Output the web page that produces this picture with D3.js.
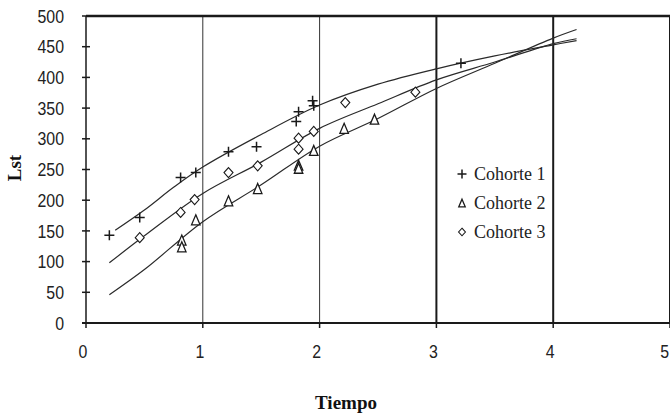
<!DOCTYPE html>
<html>
<head>
<meta charset="utf-8">
<style>
  body { margin: 0; background: #fff; }
  svg { display: block; }
  .tick-lbl { font-family: "Liberation Sans", Arial, sans-serif; font-size: 18.5px; fill: #222; }
  .ttl { font-family: "Liberation Serif", "Times New Roman", serif; font-weight: bold; font-size: 19px; fill: #111; }
  .leg { font-family: "Liberation Serif", "Times New Roman", serif; font-size: 18px; fill: #222; }
</style>
</head>
<body>
<svg width="670" height="416"></svg>
<script src="https://cdnjs.cloudflare.com/ajax/libs/d3/7.8.5/d3.min.js"></script>
<script>
var c1T = [0.2, 0.46, 0.81, 0.94, 1.22, 1.46, 1.8, 1.82, 1.94, 1.95, 3.21];
var c1L = [143, 172, 237, 245, 279, 287, 328, 344, 362, 354, 423];
var c2T = [0.82, 0.82, 0.94, 1.22, 1.47, 1.82, 1.82, 1.95, 2.21, 2.47];
var c2L = [135, 124, 168, 199, 219, 257, 252, 281, 317, 332];
var c3T = [0.46, 0.81, 0.93, 1.22, 1.47, 1.82, 1.82, 1.95, 2.22, 2.82];
var c3L = [139, 180, 201, 245, 256, 301, 283, 312, 359, 376];

// fitted curves
var f1T = [0.25, 0.5, 0.75, 1, 1.5, 2, 2.5, 3, 3.5, 4, 4.2];
var f1L = [151, 184, 221, 254, 307, 355, 389, 414, 435, 453, 460];
var f2T = [0.2, 0.5, 1, 1.5, 2, 2.5, 3, 3.5, 4, 4.2];
var f2L = [46, 87, 165, 225, 288, 333, 382, 423, 464, 478];
var f3T = [0.2, 0.5, 1, 1.5, 2, 2.5, 3, 3.5, 4, 4.2];
var f3L = [98, 142, 211, 262, 317, 357, 396, 425, 455, 463];

var xTicks = [0, 1, 2, 3, 4, 5];
var yTicks = [0, 50, 100, 150, 200, 250, 300, 350, 400, 450, 500];
var legendNames = ["Cohorte 1", "Cohorte 2", "Cohorte 3"];

var svg = d3.select("svg");
var x = d3.scaleLinear().domain([0, 5]).range([86, 670]);
var y = d3.scaleLinear().domain([0, 500]).range([323, 16]);
var ink = "#1a1a1a";

// vertical grid lines
xTicks.slice(1).forEach(function(t) {
  svg.append("line")
    .attr("x1", x(t)).attr("x2", x(t))
    .attr("y1", y(500)).attr("y2", y(0))
    .attr("stroke", t >= 3 ? ink : "#333")
    .attr("stroke-width", t >= 3 ? 2 : 1);
});

// top border
svg.append("line").attr("x1", x(0)).attr("x2", x(5)).attr("y1", y(500)).attr("y2", y(500))
  .attr("stroke", ink).attr("stroke-width", 2.5);

// y axis
svg.append("line").attr("x1", x(0)).attr("x2", x(0)).attr("y1", y(500)).attr("y2", y(0))
  .attr("stroke", ink).attr("stroke-width", 1.5);
yTicks.forEach(function(t) {
  svg.append("line").attr("x1", x(0) - 4).attr("x2", x(0) + 4).attr("y1", y(t)).attr("y2", y(t))
    .attr("stroke", ink).attr("stroke-width", 1.5);
  svg.append("text").attr("class", "tick-lbl")
    .attr("transform", "translate(64," + y(t) + ") scale(0.86,1)")
    .attr("dy", "0.36em")
    .attr("text-anchor", "end").text(t);
});

// x axis
svg.append("line").attr("x1", x(0) - 4).attr("x2", x(5)).attr("y1", y(0)).attr("y2", y(0))
  .attr("stroke", ink).attr("stroke-width", 2);
xTicks.forEach(function(t) {
  svg.append("line").attr("x1", x(t)).attr("x2", x(t)).attr("y1", y(0)).attr("y2", y(0) + 5)
    .attr("stroke", ink).attr("stroke-width", 1.5);
  var last = t === xTicks[xTicks.length - 1];
  svg.append("text").attr("class", "tick-lbl")
    .attr("transform", "translate(" + (last ? 669 : x(t) - 3) + ",351) scale(0.86,1)")
    .attr("dy", "0.36em")
    .attr("text-anchor", last ? "end" : "middle").text(t);
});

// axis titles
svg.append("text").attr("class", "ttl").attr("x", 346).attr("y", 409)
  .attr("text-anchor", "middle").text("Tiempo");
svg.append("text").attr("class", "ttl")
  .attr("transform", "translate(21,168) rotate(-90)")
  .attr("text-anchor", "middle").text("Lst");

// fitted curves
var line = d3.line()
  .x(function(d) { return x(d[0]); })
  .y(function(d) { return y(d[1]); })
  .curve(d3.curveCatmullRom);
[[f1T, f1L], [f2T, f2L], [f3T, f3L]].forEach(function(f) {
  svg.append("path")
    .datum(d3.zip(f[0], f[1]))
    .attr("d", line)
    .attr("fill", "none")
    .attr("stroke", "#2a2a2a")
    .attr("stroke-width", 1.2);
});

// markers
function plus(g, s) {
  g.append("path").attr("d", "M" + (-s) + ",0H" + s + "M0," + (-s) + "V" + s)
    .attr("stroke", ink).attr("stroke-width", 1.5).attr("fill", "none");
}
function tri(g, s) {
  g.append("path").attr("d", "M0," + (-s) + "L" + (s * 0.85) + "," + s + "H" + (-s * 0.85) + "Z")
    .attr("stroke", ink).attr("stroke-width", 1.3).attr("fill", "#fff");
}
function dia(g, s) {
  g.append("path").attr("d", "M0," + (-s) + "L" + (s * 0.9) + ",0L0," + s + "L" + (-s * 0.9) + ",0Z")
    .attr("stroke", ink).attr("stroke-width", 1.1).attr("fill", "#fff");
}
var shapes = [plus, tri, dia];

[[c1T, c1L], [c2T, c2L], [c3T, c3L]].forEach(function(c, i) {
  svg.append("g").selectAll("g")
    .data(d3.zip(c[0], c[1]))
    .enter().append("g")
    .attr("transform", function(d) { return "translate(" + x(d[0]) + "," + y(d[1]) + ")"; })
    .each(function() { shapes[i](d3.select(this), 5); });
});

// legend
legendNames.forEach(function(n, i) {
  var ly = 174 + i * 29;
  var g = svg.append("g").attr("transform", "translate(462," + ly + ")");
  shapes[i](g, i === 0 ? 4.5 : 3.8);
  svg.append("text").attr("class", "leg").attr("x", 474).attr("y", ly).attr("dy", "0.33em").text(n);
});
</script>
</body>
</html>
